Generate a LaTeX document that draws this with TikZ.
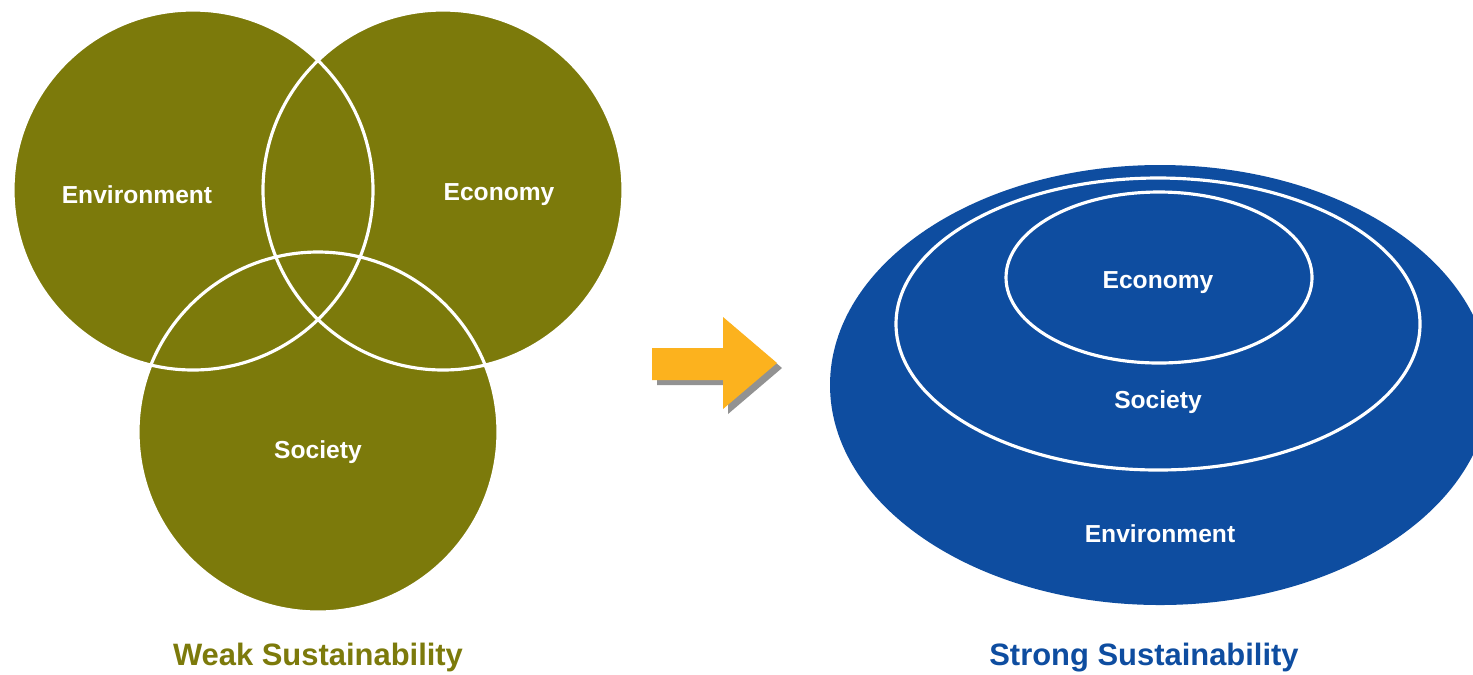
\documentclass[tikz,border=0pt]{standalone}
\usepackage{fontspec}
\setmainfont{Liberation Sans}
\usepackage{tikz}
\usetikzlibrary{shapes,arrows,positioning,shadows,calc}

\definecolor{weakcol}{RGB}{124,122,11}
\definecolor{strongcol}{RGB}{14,77,160}
\definecolor{arrcol}{RGB}{252,178,30}

\begin{document}
\begin{tikzpicture}[
    venn/.style={circle, fill=weakcol, minimum size=3.6cm, inner sep=0pt},
    rim/.style={draw=white, line width=0.9pt},
    lbl/.style={text=white, font=\fontsize{7}{8}\selectfont\bfseries},
    title/.style={anchor=base, font=\fontsize{8.8}{10}\selectfont\bfseries}]
    \clip (0,0) rectangle (14.73,6.74);
    \fill[white] (0,0) rectangle (14.73,6.74);

    % weak sustainability
    \node[venn] (env) at (1.93,4.84) {};
    \node[venn] (eco) at (4.43,4.84) {};
    \node[venn] (soc) at (3.18,2.42) {};
    \foreach \n in {env,eco,soc}
        \draw[rim] (\n.center) circle (1.8);
    \node[lbl] (envl) at (1.37,4.79) {Environment};
    \node[lbl] (ecol) at (4.99,4.79) {Economy};
    \node[lbl] (socl) at (3.18,2.22) {Society};
    \node[title, text=weakcol] (weak) at (3.18,0.09) {Weak Sustainability};

    % arrow
    \fill[arrcol, drop shadow={shadow xshift=0.05cm, shadow yshift=-0.05cm, fill=black!85, opacity=0.5}]
        (6.52,3.26) -- (7.23,3.26) -- (7.23,3.57) -- (7.77,3.11)
        -- (7.23,2.65) -- (7.23,2.94) -- (6.52,2.94) -- cycle;

    % strong sustainability
    \node[ellipse, fill=strongcol, minimum width=6.6cm, minimum height=4.4cm, inner sep=0pt] (envb) at (11.60,2.89) {};
    \node[ellipse, rim, minimum width=5.24cm, minimum height=2.92cm, inner sep=0pt] (socb) at (11.58,3.50) {};
    \node[ellipse, rim, minimum width=3.06cm, minimum height=1.71cm, inner sep=0pt] (ecob) at (11.59,3.965) {};
    \node[lbl] (ecobl) at (11.58,3.91) {Economy};
    \node[lbl] (socbl) at (11.58,2.72) {Society};
    \node[lbl] (envbl) at (11.60,1.40) {Environment};
    \node[title, text=strongcol] (strong) at (11.44,0.09) {Strong Sustainability};
\end{tikzpicture}
\end{document}
